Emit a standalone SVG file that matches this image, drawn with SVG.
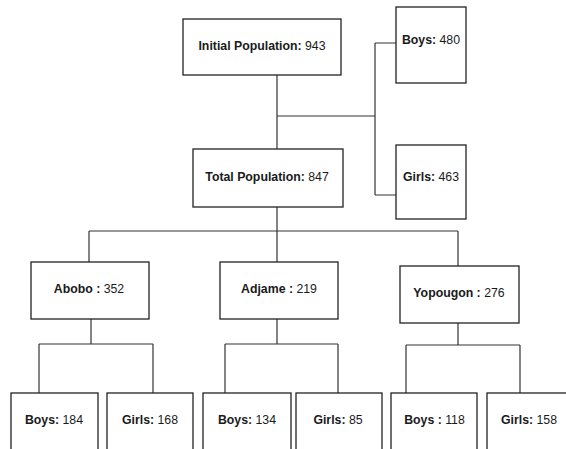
<svg xmlns="http://www.w3.org/2000/svg" width="566" height="449" viewBox="0 0 566 449">
<style>
.box{fill:#fff;stroke:#222;stroke-width:1.3}
.ln{fill:none;stroke:#333;stroke-width:1.2}
text{font-family:"Liberation Sans",Arial,sans-serif;font-size:12.3px;fill:#1a1a1a;text-anchor:middle}
.b{font-weight:bold}
</style>
<rect width="566" height="449" fill="#fff"/>
<g id="connectors">
<path class="ln" d="M277,75V149M277,116H375M375,43V195M375,43H396M375,195H396"/>
<path class="ln" d="M277,207V231M89,231H458M89,231V262M277,231V262M458,231V266"/>
<path class="ln" d="M91,319V344M39,344H153M39,344V393M153,344V393"/>
<path class="ln" d="M277,319V344M225,344H338M225,344V393M338,344V393"/>
<path class="ln" d="M458,323V345M406,345H520M406,345V393M520,345V393"/>
</g>
<g id="initial"><rect class="box" x="183" y="19" width="158" height="56"/><text x="262" y="50"><tspan class="b">Initial Population:</tspan> 943</text></g>
<g id="boys480"><rect class="box" x="396" y="7" width="70" height="76"/><text x="431" y="44"><tspan class="b">Boys:</tspan> 480</text></g>
<g id="girls463"><rect class="box" x="396" y="145" width="70" height="74"/><text x="431" y="181"><tspan class="b">Girls:</tspan> 463</text></g>
<g id="total"><rect class="box" x="193" y="149" width="150" height="58"/><text x="267" y="181"><tspan class="b">Total Population:</tspan> 847</text></g>
<g id="abobo"><rect class="box" x="31" y="262" width="118" height="57"/><text x="89" y="293"><tspan class="b">Abobo :</tspan> 352</text></g>
<g id="adjame"><rect class="box" x="220" y="262" width="118" height="57"/><text x="279" y="293"><tspan class="b">Adjame :</tspan> 219</text></g>
<g id="yopougon"><rect class="box" x="400" y="266" width="119" height="57"/><text x="459" y="297"><tspan class="b">Yopougon :</tspan> 276</text></g>
<g id="boys184"><rect class="box" x="11" y="393" width="87" height="70"/><text x="54" y="424"><tspan class="b">Boys:</tspan> 184</text></g>
<g id="girls168"><rect class="box" x="107" y="393" width="86" height="70"/><text x="150" y="424"><tspan class="b">Girls:</tspan> 168</text></g>
<g id="boys134"><rect class="box" x="203" y="393" width="88" height="70"/><text x="247" y="424"><tspan class="b">Boys:</tspan> 134</text></g>
<g id="girls85"><rect class="box" x="296" y="393" width="86" height="70"/><text x="338" y="424"><tspan class="b">Girls:</tspan> 85</text></g>
<g id="boys118"><rect class="box" x="391" y="393" width="86" height="70"/><text x="434.5" y="424"><tspan class="b">Boys :</tspan> 118</text></g>
<g id="girls158"><rect class="box" x="487" y="393" width="86" height="70"/><text x="529" y="424"><tspan class="b">Girls:</tspan> 158</text></g>
</svg>
